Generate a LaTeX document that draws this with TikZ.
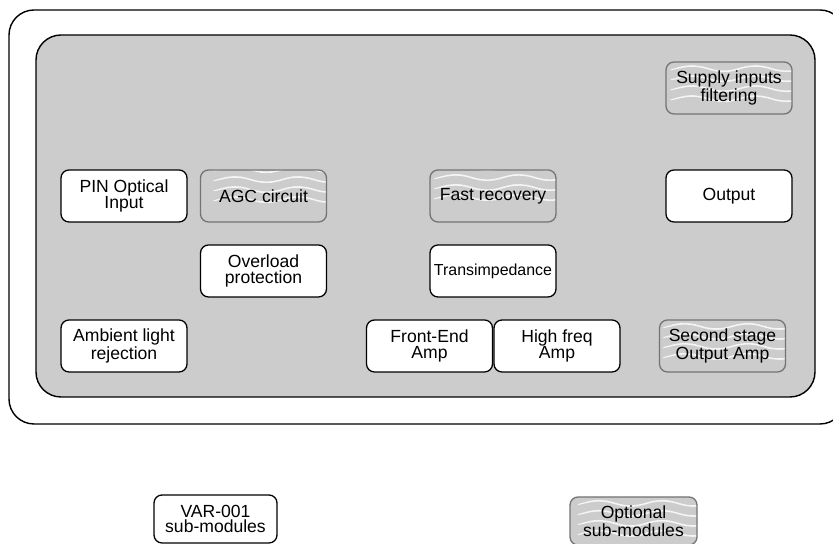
\documentclass[tikz,border=0pt]{standalone}
\usepackage{fontspec}
\setmainfont{Liberation Sans}
\usepackage{tikz}
\usetikzlibrary{positioning, calc}

\begin{document}
\begin{tikzpicture}[font=\fontsize{15}{13.2}\selectfont,
    panel/.style={line width=1.2pt, rounded corners=0.75cm},
    module/.style={draw, line width=1.1pt, fill=white, rounded corners=0.24cm,
                   minimum width=3.78cm, minimum height=1.56cm,
                   align=center, inner sep=0pt},
    optmod/.style={module, draw=black!55, fill=gray!40,
                   path picture={
                     \begin{scope}[shift={(path picture bounding box.south west)}]
                       \foreach \k in {0,...,6}
                         \draw[gray!8, line width=0.9pt]
                           plot[domain=0:4.2, samples=60, smooth]
                           (\x, {0.08+\k*0.3+0.07*sin(\x*190)});
                     \end{scope}}}]

    \useasboundingbox (0,0) rectangle (24.99,16.32);

    % outer frame and panel
    \draw[panel] (0.27,3.6) rectangle (25.35,16.02);
    \draw[panel, fill=gray!40] (1.08,4.41) rectangle (24.45,15.27);

    \node[optmod] (supply) at (21.87,13.68) {Supply inputs\\filtering};

    \node[module] (pin)    at (3.72,10.44)   {PIN Optical\\Input};
    \node[optmod] (agc)    at (7.905,10.44)  {AGC circuit};
    \node[optmod] (fast)   at (14.79,10.44)  {Fast recovery};
    \node[module] (output) at (21.87,10.44)  {Output};

    \node[module] (overload) at (7.905,8.19) {Overload\\protection};
    \node[module, font=\fontsize{13.6}{13.2}\selectfont] (trans) at (14.79,8.19) {Transimpedance};

    \node[module] (ambient)  at (3.72,5.94)   {Ambient light\\rejection};
    \node[module] (frontend) at (12.885,5.94) {Front-End\\Amp};
    \node[module] (highfreq) at (16.71,5.94)  {High freq\\Amp};
    \node[optmod] (second)   at (21.675,5.94) {Second stage\\Output Amp};

    % legend
    \node[module, minimum width=3.69cm, minimum height=1.44cm] (var) at (6.465,0.75) {VAR-001\\sub-modules};
    \node[optmod, minimum width=3.81cm, minimum height=1.44cm] (opt) at (19.005,0.69) {Optional\\sub-modules};
  \end{tikzpicture}
\end{document}
